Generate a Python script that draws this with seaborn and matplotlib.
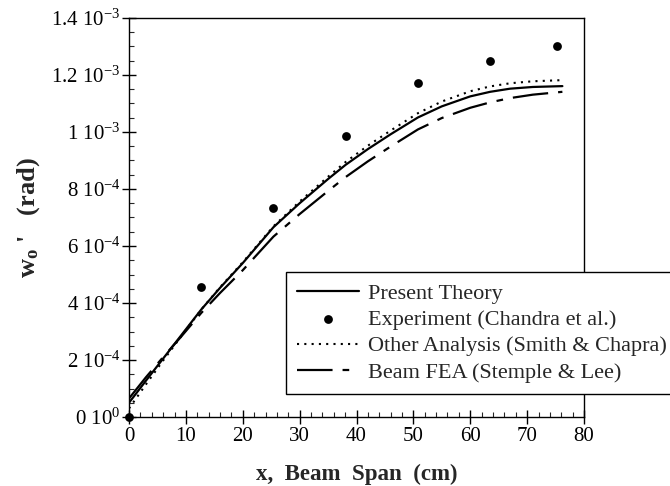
import matplotlib
matplotlib.use("Agg")
import matplotlib.pyplot as plt
import seaborn as sns
from matplotlib.ticker import MultipleLocator, FixedLocator

# ---------------- data ----------------
x_curve = [0, 3, 6, 9, 12.7, 16, 20, 25.4, 30, 35, 38.1, 42, 46, 50.8,
           55, 60, 63.5, 67, 71, 76.2]
present_theory = [0.50e-4, 1.28e-4, 2.05e-4, 2.82e-4, 3.77e-4, 4.53e-4, 5.40e-4,
                  6.66e-4, 7.50e-4, 8.35e-4, 8.85e-4, 9.40e-4, 9.92e-4, 10.51e-4,
                  10.90e-4, 11.25e-4, 11.41e-4, 11.52e-4, 11.58e-4, 11.61e-4]
other_analysis = [0.30e-4, 1.15e-4, 1.98e-4, 2.78e-4, 3.77e-4, 4.55e-4, 5.43e-4,
                  6.69e-4, 7.56e-4, 8.43e-4, 8.95e-4, 9.52e-4, 10.05e-4, 10.66e-4,
                  11.07e-4, 11.43e-4, 11.60e-4, 11.71e-4, 11.78e-4, 11.82e-4]
beam_fea = [0.65e-4, 1.40e-4, 2.10e-4, 2.78e-4, 3.65e-4, 4.35e-4, 5.15e-4,
            6.33e-4, 7.12e-4, 7.93e-4, 8.42e-4, 8.97e-4, 9.49e-4, 10.09e-4,
            10.49e-4, 10.85e-4, 11.04e-4, 11.19e-4, 11.31e-4, 11.41e-4]

x_exp = [0, 12.7, 25.4, 38.1, 50.8, 63.5, 75.2]
experiment = [0.0, 4.57e-4, 7.33e-4, 9.85e-4, 11.73e-4, 12.50e-4, 13.00e-4]

labels = ["Present Theory", "Experiment (Chandra et al.)",
          "Other Analysis (Smith & Chapra)", "Beam FEA (Stemple & Lee)"]

x_ticks = [0, 10, 20, 30, 40, 50, 60, 70, 80]
y_ticks = [0, 2e-4, 4e-4, 6e-4, 8e-4, 1e-3, 1.2e-3, 1.4e-3]
y_tick_labels = [r"0 10$^{0}$", r"2 10$^{-4}$", r"4 10$^{-4}$", r"6 10$^{-4}$",
                 r"8 10$^{-4}$", r"1 10$^{-3}$", r"1.2 10$^{-3}$", r"1.4 10$^{-3}$"]

# ---------------- style ----------------
sns.set_style("ticks")
plt.rcParams["font.family"] = ["Liberation Serif", "DejaVu Serif"]
plt.rcParams["mathtext.fontset"] = "custom"
plt.rcParams["mathtext.rm"] = "Liberation Serif"
plt.rcParams["mathtext.it"] = "Liberation Serif:italic"
plt.rcParams["mathtext.bf"] = "Liberation Serif:bold"

fig = plt.figure(figsize=(6.7, 4.86), dpi=100)
ax = fig.add_axes([129 / 670, 69 / 486, 455 / 670, 399 / 486])

sns.lineplot(x=x_curve, y=present_theory, ax=ax, color="black", lw=1.6,
             linestyle="-", label=labels[0])
sns.scatterplot(x=x_exp, y=experiment, ax=ax, color="black", s=40,
                linewidth=0, clip_on=False, zorder=5, label=labels[1])
sns.lineplot(x=x_curve, y=other_analysis, ax=ax, color="black", lw=1.5,
             linestyle=(0, (1, 2.5)), label=labels[2])
sns.lineplot(x=x_curve, y=beam_fea, ax=ax, color="black", lw=1.6,
             linestyle=(0, (16, 4.5, 3, 4.5)), label=labels[3])

ax.set_xlim(0, 80)
ax.set_ylim(0, 1.4e-3)
ax.xaxis.set_major_locator(FixedLocator(x_ticks))
ax.xaxis.set_minor_locator(MultipleLocator(2))
ax.set_yticks(y_ticks)
ax.set_yticklabels(y_tick_labels)
ax.yaxis.set_minor_locator(MultipleLocator(0.5e-4))

ax.tick_params(which="major", direction="inout", length=10, width=1,
               labelsize=15, colors="black")
ax.tick_params(axis="y", which="major", pad=1)
ax.tick_params(axis="x", which="major", pad=2)
ax.tick_params(which="minor", direction="in", length=3.5, width=0.8)
for sp in ax.spines.values():
    sp.set_linewidth(1.0)
    sp.set_color("black")

ax.set_xlabel("x,  Beam  Span  (cm)", fontsize=16.5, fontweight="bold", labelpad=13)
ax.set_ylabel(r"$\mathbf{w_o}$ '   (rad)", fontsize=19, fontweight="bold", labelpad=7)

handles, labs = ax.get_legend_handles_labels()
hmap = dict(zip(labs, handles))
leg = ax.legend([hmap[l] for l in labels], labels, loc="upper left",
                bbox_to_anchor=(0.345, 0.363), frameon=True, fancybox=False,
                edgecolor="black", framealpha=1, fontsize=16, handlelength=2.8,
                handletextpad=0.4, borderpad=0.5, labelspacing=0.26,
                borderaxespad=0, scatterpoints=1)
leg.get_frame().set_linewidth(1.0)

fig.savefig("out.png", dpi=100)
